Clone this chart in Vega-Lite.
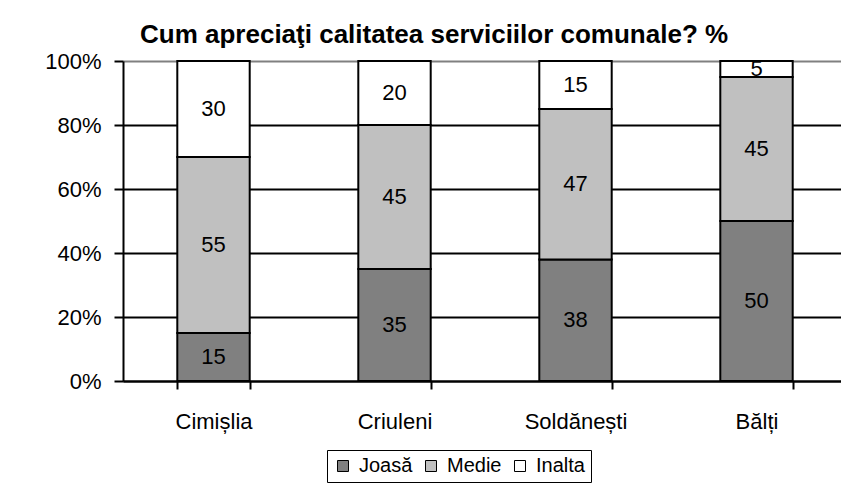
{
  "$schema": "https://vega.github.io/schema/vega-lite/v6.json",
  "width": 724,
  "height": 320,
  "autosize": "none",
  "padding": {"left": 123, "top": 61, "right": 0, "bottom": 104},
  "background": "white",
  "title": {
    "text": "Cum apreciaţi calitatea serviciilor comunale? %",
    "anchor": "start",
    "frame": "group",
    "dx": 17,
    "fontSize": 26,
    "fontWeight": "bold",
    "color": "black",
    "offset": 2
  },
  "config": {
    "font": "Liberation Sans",
    "view": {"stroke": null}
  },
  "data": {
    "values": [
      {"loc": "Cimișlia", "cat": "Joasă", "ord": 1, "v": 15},
      {"loc": "Cimișlia", "cat": "Medie", "ord": 2, "v": 55},
      {"loc": "Cimișlia", "cat": "Inalta", "ord": 3, "v": 30},
      {"loc": "Criuleni", "cat": "Joasă", "ord": 1, "v": 35},
      {"loc": "Criuleni", "cat": "Medie", "ord": 2, "v": 45},
      {"loc": "Criuleni", "cat": "Inalta", "ord": 3, "v": 20},
      {"loc": "Soldănești", "cat": "Joasă", "ord": 1, "v": 38},
      {"loc": "Soldănești", "cat": "Medie", "ord": 2, "v": 47},
      {"loc": "Soldănești", "cat": "Inalta", "ord": 3, "v": 15},
      {"loc": "Bălți", "cat": "Joasă", "ord": 1, "v": 50},
      {"loc": "Bălți", "cat": "Medie", "ord": 2, "v": 45},
      {"loc": "Bălți", "cat": "Inalta", "ord": 3, "v": 5}
    ]
  },
  "transform": [
    {"stack": "v", "groupby": ["loc"], "sort": [{"field": "ord"}], "as": ["v0", "v1"]},
    {"calculate": "(datum.v0 + datum.v1) / 2", "as": "vm"}
  ],
  "encoding": {
    "x": {
      "field": "loc",
      "type": "nominal",
      "sort": ["Cimișlia", "Criuleni", "Soldănești", "Bălți"],
      "scale": {"paddingInner": 0.6, "paddingOuter": 0.3},
      "axis": {
        "title": null,
        "labelAngle": 0,
        "labelFontSize": 22,
        "labelColor": "black",
        "labelPadding": 22,
        "tickBand": "extent",
        "tickSize": 8,
        "tickColor": "black",
        "tickWidth": 2,
        "domainColor": "black",
        "domainWidth": 2,
        "grid": false
      }
    }
  },
  "layer": [
    {
      "mark": {"type": "bar", "stroke": "black", "strokeWidth": 2},
      "encoding": {
        "y": {
          "field": "v0",
          "type": "quantitative",
          "scale": {"domain": [0, 100]},
          "axis": {
            "title": null,
            "values": [0, 20, 40, 60, 80, 100],
            "labelExpr": "datum.value + '%'",
            "labelFontSize": 22,
            "labelColor": "black",
            "labelPadding": 13,
            "tickSize": 9,
            "tickColor": "black",
            "tickWidth": 2,
            "domainColor": "black",
            "domainWidth": 2,
            "grid": true,
            "gridColor": {"condition": {"test": "datum.value === 100", "value": "#808080"}, "value": "black"},
            "gridWidth": 2
          }
        },
        "y2": {"field": "v1"},
        "color": {
          "field": "cat",
          "type": "nominal",
          "scale": {"domain": ["Joasă", "Medie", "Inalta"], "range": ["#808080", "#C0C0C0", "#FFFFFF"]},
          "legend": {
            "title": null,
            "orient": "none",
            "legendX": 204,
            "legendY": 389,
            "direction": "horizontal",
            "strokeColor": "black",
            "padding": 6,
            "symbolType": "square",
            "symbolSize": 121,
            "symbolStrokeColor": "black",
            "symbolStrokeWidth": 1,
            "labelFontSize": 20,
            "labelColor": "black",
            "labelOffset": 6,
            "columnPadding": 8
          }
        }
      }
    },
    {
      "mark": {"type": "text", "fontSize": 22, "color": "black", "baseline": "middle"},
      "encoding": {
        "y": {"field": "vm", "type": "quantitative"},
        "text": {"field": "v", "type": "quantitative"}
      }
    }
  ]
}
